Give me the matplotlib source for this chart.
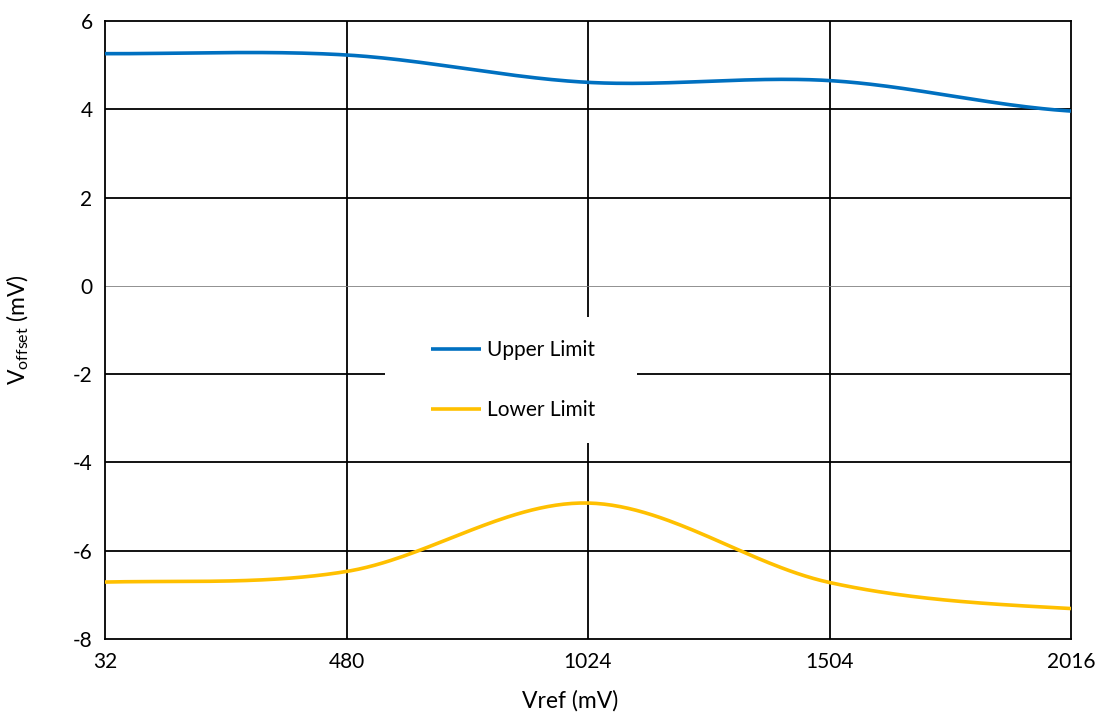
import numpy as np
import matplotlib
matplotlib.use("Agg")
import matplotlib.pyplot as plt
from matplotlib.patches import Rectangle

# Vref categories (mV) and offset limits (mV)
vref = ["32", "480", "1024", "1504", "2016"]
upper = [5.26, 5.23, 4.61, 4.65, 3.96]
lower = [-6.71, -6.47, -4.92, -6.72, -7.31]
yticks = [-8, -6, -4, -2, 0, 2, 4, 6]


def smooth(y, steps=60):
    # Catmull-Rom style smoothing, like a spreadsheet "smoothed line"
    y = np.asarray(y, dtype=float)
    n = len(y)
    m = np.zeros(n)
    m[0] = (y[1] - y[0]) / 2
    m[-1] = (y[-1] - y[-2]) / 2
    m[1:-1] = (y[2:] - y[:-2]) / 2
    xs, ys = [], []
    for i in range(n - 1):
        t = np.linspace(0, 1, steps, endpoint=(i == n - 2))
        h00 = 2 * t**3 - 3 * t**2 + 1
        h10 = t**3 - 2 * t**2 + t
        h01 = -2 * t**3 + 3 * t**2
        h11 = t**3 - t**2
        xs.append(i + t)
        ys.append(h00 * y[i] + h10 * m[i] + h01 * y[i + 1] + h11 * m[i + 1])
    return np.concatenate(xs), np.concatenate(ys)


plt.rcParams['font.family'] = ['Lato', 'DejaVu Sans']
plt.rcParams['mathtext.default'] = 'regular'

fig = plt.figure(figsize=(10.99, 7.17), dpi=100)
ax = fig.add_axes([105 / 1099, 1 - 639 / 717, 966 / 1099, 618 / 717])

x = np.arange(len(vref))
ux, uy = smooth(upper)
lx, ly = smooth(lower)
ax.plot(ux, uy, color="#0070C0", lw=2.6, label="Upper Limit", zorder=3,
        solid_capstyle="butt")
ax.plot(lx, ly, color="#FFC000", lw=2.6, label="Lower Limit", zorder=3,
        solid_capstyle="butt")

ax.set_xlim(0, len(vref) - 1)
ax.set_ylim(-8, 6)
ax.set_xticks(x)
ax.set_xticklabels(vref)
ax.set_yticks(yticks)
ax.set_yticklabels([str(v) for v in yticks])
ax.tick_params(length=0, labelsize=15, pad=9)

ax.set_axisbelow(True)
for xv in x[1:-1]:
    ax.axvline(xv, color="black", lw=1.3, zorder=0.5)
for yv in yticks[1:-1]:
    if yv == 0:
        ax.axhline(yv, color="#7f7f7f", lw=0.6, zorder=0.5)
    else:
        ax.axhline(yv, color="black", lw=1.3, zorder=0.5)
for s in ax.spines.values():
    s.set_color("black")
    s.set_linewidth(1.3)

# white legend background that hides the grid
ax.add_patch(Rectangle(((385 - 105) / 966, (639 - 443) / 618), 252 / 966, 126 / 618,
                       transform=ax.transAxes, facecolor="white", edgecolor="none",
                       zorder=1))
ax.legend(loc="center", bbox_to_anchor=((513 - 105) / 966, (639 - 380) / 618),
          frameon=False, fontsize=15, handlelength=2.4, handletextpad=0.3,
          labelspacing=1.9)

ax.set_xlabel("Vref (mV)", fontsize=16.5)
ax.xaxis.set_label_coords((570 - 105) / 966, -(690 - 639) / 618)
ax.set_ylabel("V$_{offset}$ (mV)", fontsize=16.5, labelpad=30)

fig.savefig("out.png", dpi=100)
